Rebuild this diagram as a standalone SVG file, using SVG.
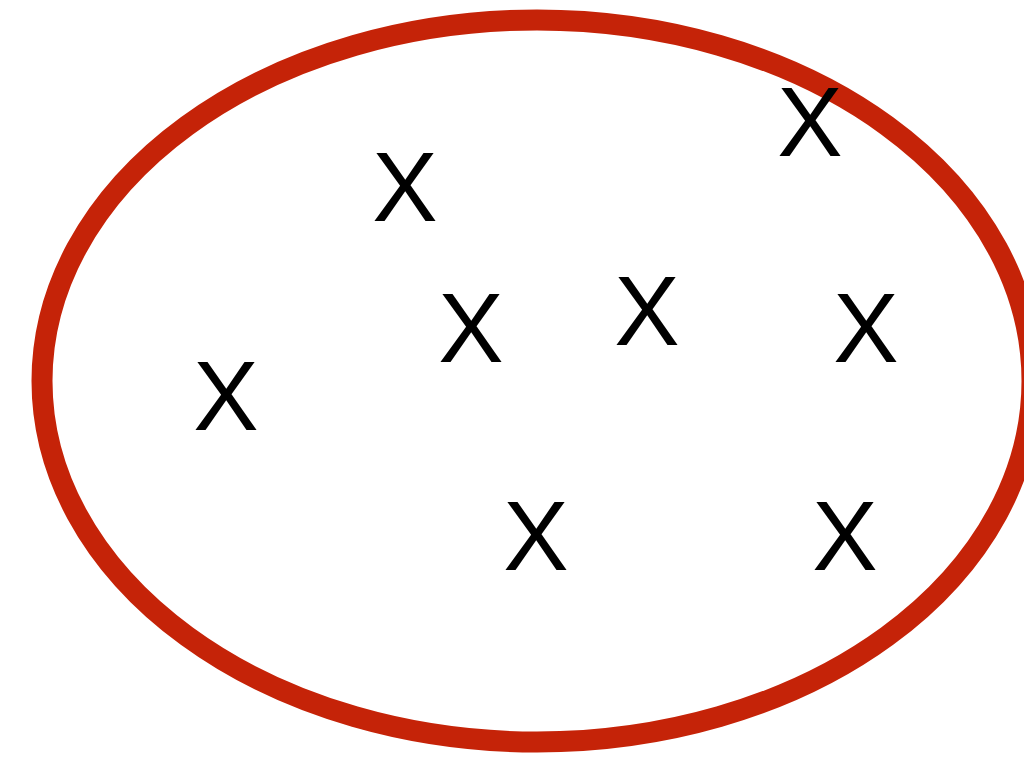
<svg xmlns="http://www.w3.org/2000/svg" width="1024" height="759" viewBox="0 0 1024 759">
<style>
.x{font-family:"Liberation Sans",Arial,sans-serif;font-size:98px;fill:#000;text-anchor:middle}
</style>
<rect width="1024" height="759" fill="#fff"/>
<ellipse id="set" cx="537" cy="381" rx="495" ry="361" fill="none" stroke="#c52308" stroke-width="21"/>
<g id="points">
<text class="x" x="405" y="221">X</text>
<text class="x" x="810" y="156">X</text>
<text class="x" x="471" y="362">X</text>
<text class="x" x="647" y="345">X</text>
<text class="x" x="866" y="362">X</text>
<text class="x" x="226" y="430">X</text>
<text class="x" x="536" y="570">X</text>
<text class="x" x="845" y="570">X</text>
</g>
</svg>
